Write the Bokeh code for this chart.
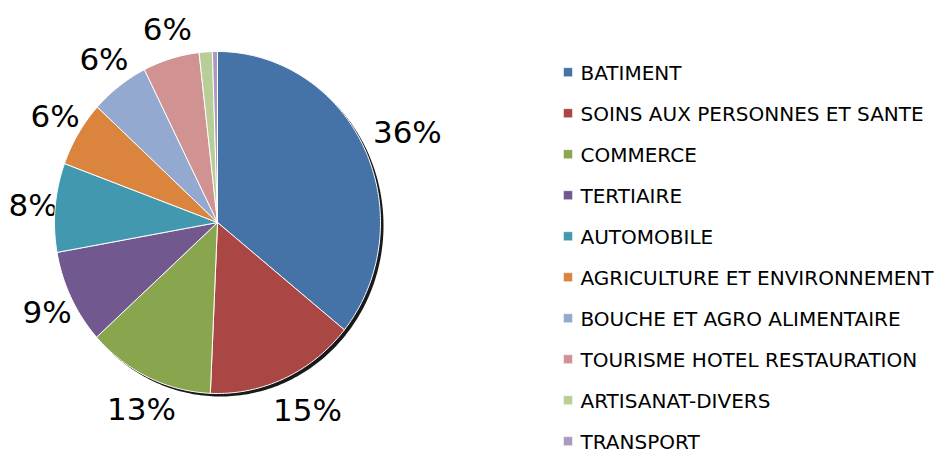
import numpy as np
from bokeh.plotting import figure
from bokeh.models import Range1d
from bokeh.core.properties import value
from bokeh.embed import file_html
from bokeh.resources import INLINE

# ---- data ----
categories = [
    "BATIMENT",
    "SOINS AUX PERSONNES ET SANTE",
    "COMMERCE",
    "TERTIAIRE",
    "AUTOMOBILE",
    "AGRICULTURE ET ENVIRONNEMENT",
    "BOUCHE ET AGRO ALIMENTAIRE",
    "TOURISME HOTEL RESTAURATION",
    "ARTISANAT-DIVERS",
    "TRANSPORT",
]
shares = [35.8, 14.9, 12.6, 8.9, 8.4, 6.2, 5.8, 5.6, 1.3, 0.5]
pct_labels = ["36%", "15%", "13%", "9%", "8%", "6%", "6%", "6%", "", ""]
colors = ["#4572A7", "#AA4643", "#89A54E", "#71588F", "#4198AF",
          "#DB843D", "#93A9CF", "#D19392", "#B9CD96", "#A99BBD"]

# ---- layout / style ----
W, H = 948, 457
CX, CY, RX, RY = 217, 222, 163, 171
FONT = "DejaVu Sans"

p = figure(width=W, height=H, x_range=Range1d(0, W), y_range=Range1d(H, 0),
           output_backend="svg", toolbar_location=None, min_border=0,
           x_axis_type=None, y_axis_type=None)
p.grid.visible = False
p.outline_line_color = None
p.background_fill_color = "white"
p.border_fill_color = "white"

frac = np.array(shares) / np.sum(shares)
ends = np.cumsum(frac) * 2 * np.pi
starts = ends - frac * 2 * np.pi

# data labels (drawn first, so the pie sits on top)
lx, ly, lt = [], [], []
for s, e, lab in zip(starts, ends, pct_labels):
    if not lab:
        continue
    m = (s + e) / 2
    ux, uy = np.sin(m), -np.cos(m)
    ex, ey = CX + RX * ux, CY + RY * uy
    bw = 13 * (len(lab) + 1)
    d = 6 + abs(ux) * bw / 2 + abs(uy) * 20
    lx.append(ex + ux * d - bw / 2)
    ly.append(ey + uy * d)
    lt.append(lab)
p.text(x=lx, y=ly, text=lt, text_font=value(FONT), text_font_size="31px",
       text_align="left", text_baseline="middle", text_color="black")

# shadow
t = np.linspace(0, 2 * np.pi, 361)
p.patch(x=list(CX + 3 + RX * np.sin(t)), y=list(CY + 3 - RY * np.cos(t)),
        fill_color="black", fill_alpha=0.9, line_color=None)

xs, ys = [], []
for s, e in zip(starts, ends):
    n = max(3, int(np.degrees(e - s)) + 2)
    tt = np.linspace(s, e, n)
    xs.append([CX] + list(CX + RX * np.sin(tt)))
    ys.append([CY] + list(CY - RY * np.cos(tt)))
p.patches(xs=xs, ys=ys, fill_color=colors, line_color="white", line_width=1)

# legend
rows = [71.7 + i * 41.0 for i in range(len(categories))]
p.scatter(x=[567.5] * len(categories), y=rows, marker="square", size=9,
          fill_color=colors, line_color="white", line_alpha=0.5, line_width=1)
p.text(x=[580] * len(categories), y=[r + 1 for r in rows], text=categories,
       text_font=value(FONT), text_font_size="20px",
       text_align="left", text_baseline="middle", text_color="black")

open("out.html", "w").write(file_html(p, INLINE))
